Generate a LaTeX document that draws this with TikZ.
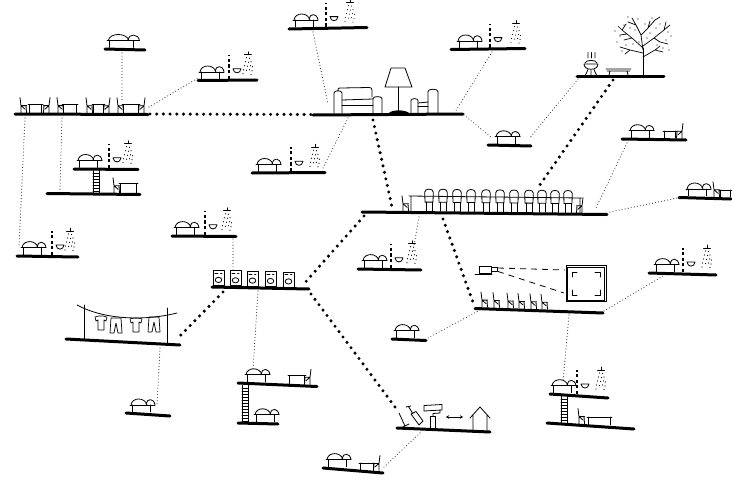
\documentclass[tikz,border=0pt]{standalone}
\usetikzlibrary{arrows.meta}
\begin{document}
\begin{tikzpicture}[x=1pt,y=-1pt,
  plat/.style={line width=3pt,line cap=round},
  icon/.style={line width=0.8pt,line cap=round,line join=round},
  twig/.style={line width=0.7pt,line cap=round,line join=round},
  mainlink/.style={line width=3.4pt,line cap=round,dash pattern=on 0pt off 6.7pt},
  sublink/.style={line width=1.15pt,line cap=round,dash pattern=on 0pt off 3.1pt,black!75},
  partition/.style={line width=1.4pt,dash pattern=on 3.2pt off 2.4pt},
  beam/.style={line width=0.8pt,dash pattern=on 6pt off 5pt},
  pics/bed/.style={code={
    \draw[icon] (2,0)--(2,-7) (20,0)--(20,-7) (0,-7)--(25,-7);
    \draw[icon] (1,-7) .. controls (2,-15) and (15,-15) .. (17,-7);
    \draw[icon] (16,-8) .. controls (17,-14) and (24,-14) .. (25,-7);
  }},
  pics/wet/.style={code={
    \draw[partition] (0,0)--(0,-24);
    \draw[icon] (4,-10)--(12,-10) (4,-10) .. controls (4.5,-4.5) and (11.5,-4.5) .. (12,-10);
    \begin{scope}[shift={(#1,-24)}]
      \draw[icon] (-3.5,0)--(3.5,0) (0,0)--(0,-3);
      \foreach \dx/\dy in {-1.5/3,1.5/3.5,-2.5/7,0.5/7.5,3/7,-3.5/11,-0.5/11.5,2.5/11,4.5/12,-4.5/15,-1.5/15.5,1.5/15,4/16,-5/19,3/19.5}
        \fill (\dx,\dy) circle (0.6);
    \end{scope}
  }},
  pics/washer/.style={code={
    \draw[icon] (0,0) rectangle (11,-15);
    \draw[icon] (5.5,-5.5) ellipse [x radius=3.3, y radius=2.6];
    \draw[icon,line width=0.6pt] (1.8,-12.3)--(5,-12.3) (7.5,-12.3)--(9,-12.3);
  }},
  pics/fchair/.style={code={
    \draw[icon] (-4,-9) -- (-4.3,-19) .. controls (-4.3,-23) and (4.3,-23) .. (4.3,-19) -- (4,-9) -- cycle;
    \draw[icon] (-3,-9)--(-3,0) (3,-9)--(3,0);
  }},
  pics/chair/.style={code={
    \draw[icon] (0,-15)--(1,-7)--(6.5,-7) (1,-7)--(1,0) (6,-7)--(6.5,0) (1,-7)--(5,-3.5);
  }},
  pics/desk/.style 2 args={code={
    \draw[icon] (0,-#2)--(#1,-#2) (1.5,-#2)--(1.5,0) (#1-1.5,-#2)--(#1-1.5,0);
  }},
  pics/ladder/.style={code={
    \draw[icon] (0,0)--(0,#1) (6,0)--(6,#1);
    \foreach \k in {3,6,...,#1} \draw[icon,line width=0.55pt] (0,\k)--(6,\k);
  }},
  pics/shirt/.style={code={
    \draw[twig] (-6,1)--(-2,0)--(2,0)--(6,1)--(5,5)--(3,4)--(3,14)--(-3,14)--(-3,4)--(-5,5)--cycle;
  }},
  pics/pants/.style={code={
    \draw[twig] (-5,0)--(5,0)--(6,15)--(2,15)--(0,5)--(-2,15)--(-6,15)--cycle;
  }}
]
\useasboundingbox (0,0) rectangle (732,480);

% ---------- platforms and their furniture ----------
% bedroom shelf over the dining hall
\draw[plat] (105,49) -- (145,50);
\pic[xscale=1.3] at (107,47.5) {bed};

% dining hall
\draw[plat] (15,114) -- (148,114.5);
\pic at (20,112.6) {chair};
\pic at (28,112.6) {desk={15}{8}};
\pic[xscale=-1] at (50,112.6) {chair};
\pic at (57,112.6) {chair};
\pic at (62,112.6) {desk={16}{8}};
\pic at (86,112.7) {chair};
\pic at (92,112.7) {desk={13}{8}};
\pic[xscale=-1] at (110,112.7) {chair};
\pic at (117,112.8) {chair};
\pic at (122,112.8) {desk={18}{8}};
\pic[xscale=-1] at (145,112.8) {chair};

% sleeping cell with wash corner
\draw[plat] (198,80.5) -- (257,80);
\pic at (199,79) {bed};
\pic at (229,78.7) {wet=19};

% top sleeping cell
\draw[plat] (289,29) -- (367,27.5);
\pic at (293,27) {bed};
\pic at (326,26.6) {wet=24};

% living room
\draw[plat] (313,115) -- (463,114);
\draw[icon] (334,113)--(334,93) .. controls (334,90) and (342,90) .. (342,93) -- (342,113);
\draw[icon] (338,91) -- (338,89.5) .. controls (338,88) and (339,88) .. (341,88) -- (369,87.5) .. controls (371,87.5) and (372,88) .. (372,90) -- (372,97);
\draw[icon] (342,100) -- (373,99);
\draw[icon] (342,105) -- (373,105);
\draw[icon] (373,113)--(373,98.5) .. controls (373,96) and (382,96) .. (382,98.5) -- (382,113);
\draw[icon] (391,68)--(405,68)--(412,87)--(385,87)--cycle;
\draw[icon] (398.5,87)--(398.5,111);
\fill (389,113) .. controls (392,109.5) and (405,109.5) .. (409,113) -- cycle;
\draw[icon] (428,113)--(428,91.5) .. controls (428,88.5) and (438,88.5) .. (438,91.5) -- (438,113);
\draw[icon] (411,113)--(411,100.5) .. controls (411,98) and (418,98) .. (418,100.5) -- (418,113);
\draw[icon] (418,103)--(428,102) (418,106.5)--(428,106.5);

% upper right sleeping cell
\draw[plat] (451,49.5) -- (525,48.5);
\pic at (457,48) {bed};
\pic at (490,47.6) {wet=26};

% barbecue terrace with tree
\draw[plat] (577,76.5) -- (664,76.5);
\draw[icon] (584,64)--(598,64) (584,64) .. controls (584,71) and (598,71) .. (598,64);
\draw[icon] (585,63) .. controls (586,59.5) and (596,59.5) .. (597,63);
\draw[icon] (588,69.5)--(585.5,75) (594,69.5)--(596.5,75) (591,70.5)--(591,75);
\draw[twig] (588,58) .. controls (586.5,56) and (589.5,55) .. (588,52.5)
            (591.5,58) .. controls (590,56) and (593,55) .. (591.5,52.5)
            (595,58) .. controls (593.5,56) and (596.5,55) .. (595,52.5);
\draw[icon] (606,69)--(631,69) (607,71)--(630,71) (610,71)--(609,75) (627,71)--(628,75);
\draw[icon] (643,75)--(643,48);
\draw[twig] (643,48)--(632,38)--(622,30)--(618,26) (632,38)--(624,40) (627,34)--(620,35)
            (643,53)--(630,50)--(620,47) (630,50)--(625,54)
            (643,50)--(641,35)--(636,25)--(632,18) (636,25)--(628,22) (641,35)--(648,28)--(655,20)--(660,17)
            (643,46)--(654,38)--(664,30)--(670,25) (654,38)--(660,42)--(668,44) (664,30)--(666,22)
            (643,57)--(655,50)--(663,52) (655,50)--(660,46) (648,28)--(650,21) (622,30)--(626,24);
\foreach \tx/\ty in {624/25,630/28,620/36,626/45,635/30,645/24,652/18,660/24,668/32,666/40,657/45,650/33,617/42,639/42,663/48,671/36,628/17,647/38,633/44,622/51,669/50,656/28,638/19,615/31}
  \fill (\tx,\ty) circle (0.7);

% small sleeping cell below the terrace
\draw[plat] (488,145) -- (531,146);
\pic at (495,143.8) {bed};

% sleeping cell with desk (right)
\draw[plat] (622,139) -- (686,140);
\pic at (629,137.7) {bed};
\pic at (663,138) {desk={14}{7}};
\pic[xscale=-1] at (683,138.3) {chair};

% sleeping cell with wash corner (left middle)
\draw[plat] (252,173) -- (325,172.5);
\pic at (256,171.5) {bed};
\pic at (291,171.2) {wet=24};

% loft with ladder (left)
\draw[plat] (74,169) -- (138,169.5);
\draw[plat] (47,193.5) -- (140,194.5);
\pic at (93,170.5) {ladder=23};
\pic at (77,167.5) {bed};
\pic at (109,167.8) {wet=19};
\pic at (113,192.7) {chair};
\pic at (119,192.8) {desk={19}{9}};

% far left sleeping cell
\draw[plat] (17,256) -- (78,257);
\pic at (21,254.6) {bed};
\pic at (52,255) {wet=18};

% sleeping cell above the laundry
\draw[plat] (172,236) -- (236,236.5);
\pic at (174,234.6) {bed};
\pic at (205,234.8) {wet=22};

% laundry
\draw[plat] (212,287) -- (309,289);
\pic at (213,285.4) {washer};
\pic at (230,285.8) {washer};
\pic at (247,286.1) {washer};
\pic at (265,286.5) {washer};
\pic at (283,286.9) {washer};

% long dining table
\draw[plat] (362,212) -- (607,214.5);
\draw[icon] (409,196)--(582,198) (411,196)--(411,211) (580,198)--(580,212.8);
\pic at (402,210.8) {chair};
\foreach \cx/\cy in {429/211.1,443/211.2,457/211.4,471/211.5,486/211.7,500/211.8,514/212,529/212.1,542/212.2,555/212.4,568/212.5}
  \pic at (\cx,\cy) {fchair};
\pic[xscale=-1] at (583,212.7) {chair};

% sleeping cell with wash corner (centre)
\draw[plat] (358,269) -- (421,270);
\pic at (362,267.6) {bed};
\pic at (391,267.8) {wet=21};

% far right sleeping cell with desk
\draw[plat] (679,197.5) -- (731,199);
\pic at (686,196) {bed};
\pic at (713,196.8) {chair};
\pic at (719,197) {desk={13}{7}};

% projection room
\draw[plat] (475,308.5) -- (603,313);
\draw[icon] (479,266) rectangle (491,273);
\draw[icon] (491,267.5) rectangle (497,271.5);
\draw[icon] (475,274.5)--(492,274.5);
\draw[beam] (498,268)--(565,270);
\draw[beam] (498,271.5)--(564,293);
\draw[icon,line width=0.9pt] (566,265.5) rectangle (606,301.5);
\draw[icon,line width=0.45pt] (567.6,267.1) rectangle (604.4,299.9);
\draw[icon] (572,277)--(572,272)--(577,272) (595,272)--(600,272)--(600,277)
            (572,290)--(572,295)--(577,295) (595,295)--(600,295)--(600,290);
\foreach \cx/\cy in {481/307.1,493/307.5,507/308,518/308.4,530/308.8,541/309.2}
  \pic at (\cx,\cy) {chair};

% sleeping cell with wash corner (right)
\draw[plat] (649,273) -- (716,275);
\pic at (654,271.6) {bed};
\pic at (683,272) {wet=24};

% small sleeping cell
\draw[plat] (392,339) -- (426,340.5);
\pic at (394,337.6) {bed};

% loft with ladder (right)
\draw[plat] (550,394) -- (608,398);
\draw[plat] (547,423) -- (634,429);
\pic at (561,396) {ladder=27};
\pic at (551,392.7) {bed};
\pic at (577,393.9) {wet=24};
\pic at (578,423.6) {chair};
\pic at (587,425) {desk={25}{8}};

% drying line
\draw[plat] (66,339) -- (180,345);
\draw[icon] (84,305)--(84,339.5) (167,308)--(167,343.5);
\draw[icon] (77,305) .. controls (105,320) and (145,321) .. (177,313);
\pic at (101,316) {shirt};
\pic at (116,318) {pants};
\pic at (136,318) {shirt};
\pic at (154,317) {pants};

% bottom left sleeping cell
\draw[plat] (126,413) -- (170,416);
\pic at (130,412) {bed};

% loft with ladder (centre bottom)
\draw[plat] (238,383) -- (317,386.5);
\draw[plat] (238,423) -- (278,424);
\pic at (242,385) {ladder=37};
\pic at (245,381.8) {bed};
\pic at (288,383.8) {desk={18}{8}};
\pic[xscale=-1] at (311,384.2) {chair};
\pic at (254,421.8) {bed};

% workshop
\draw[plat] (397,428) -- (490,432);
\draw[icon] (399,413)--(405,426) (402,427.5)--(409,424);
\draw[icon] (406,407)--(411,406) (408.5,406.5)--(413,414);
\draw[icon] (411,414)--(416,411.5)--(423,421)--(419,425)--cycle;
\draw[icon] (424,405.5)--(442,404.5)--(442,410)--(424,411)--cycle;
\draw[icon] (440,410)--(440,413)--(433,413.5)--(433,416);
\draw[icon] (430.5,416) rectangle (435.5,428.5);
\draw[icon,{Stealth[length=3pt,width=3.5pt]}-{Stealth[length=3pt,width=3.5pt]}] (446,417)--(463,417);
\draw[icon] (470,418)--(480,407)--(490,418) (473,415)--(473,430.5) (487,415)--(487,431);

% bottom sleeping cell with desk
\draw[plat] (323,468) -- (383,473);
\pic at (326,466.6) {bed};
\pic at (359,470) {desk={16}{7}};
\pic[xscale=-1] at (380,470.4) {chair};

% ---------- connector end points ----------
\coordinate (dining-e) at (150,114);
\coordinate (living-w) at (311,114.5);
\coordinate (living-s) at (373,120);
\coordinate (table-n) at (392,207);
\coordinate (bbq-s) at (613,80);
\coordinate (table-ne) at (537,189);
\coordinate (table-w) at (364,216);
\coordinate (laundry-e) at (302,286);
\coordinate (table-s) at (443,219);
\coordinate (cinema-w) at (474,305);
\coordinate (laundry-se) at (311,294);
\coordinate (workshop-nw) at (398,411);
\coordinate (laundry-sw) at (223,292);
\coordinate (drying-e) at (178,338);

\coordinate (bedA-s) at (122,53);
\coordinate (dining-n) at (122,100);
\coordinate (dining-ne) at (149,107);
\coordinate (cellA-w) at (198,78);
\coordinate (dining-sw) at (25,118);
\coordinate (farleft-n) at (19,247);
\coordinate (dining-s) at (62,118);
\coordinate (loftL-n) at (60,190);
\coordinate (top-s) at (313,32);
\coordinate (living-nw) at (328,104);
\coordinate (living-sw) at (348,118);
\coordinate (cellB-e) at (322,170);
\coordinate (upper-s) at (492,52);
\coordinate (living-ne) at (455,112);
\coordinate (living-e) at (464,115);
\coordinate (small-w) at (492,138);
\coordinate (bbq-w) at (578,79);
\coordinate (small-e) at (529,139);
\coordinate (deskcell-s) at (627,143);
\coordinate (table-e) at (595,210);
\coordinate (table-se) at (610,212);
\coordinate (farright-w) at (680,197.5);
\coordinate (table-c) at (419,217);
\coordinate (cellC-n) at (413,251);
\coordinate (cellD-s) at (233,239);
\coordinate (laundry-n) at (233,271);
\coordinate (laundry-s) at (258,291);
\coordinate (loftC-n) at (253,370);
\coordinate (drying-s) at (160,348);
\coordinate (cellE-n) at (157,405);
\coordinate (cinema-e) at (604,311);
\coordinate (cellF-w) at (663,276);
\coordinate (cinema-s) at (569,315);
\coordinate (loftR-n) at (563,382);
\coordinate (cinema-sw) at (480,310);
\coordinate (cellG-e) at (428,338);
\coordinate (workshop-s) at (420,433);
\coordinate (bottom-e) at (383,468);

% ---------- main routes ----------
\draw[mainlink] (dining-e) -- (living-w);
\draw[mainlink] (living-s) -- (table-n);
\draw[mainlink] (bbq-s) -- (table-ne);
\draw[mainlink] (table-w) -- (laundry-e);
\draw[mainlink] (table-s) -- (cinema-w);
\draw[mainlink] (laundry-se) -- (workshop-nw);
\draw[mainlink] (laundry-sw) -- (drying-e);

% ---------- secondary routes ----------
\draw[sublink] (bedA-s) -- (dining-n);
\draw[sublink] (dining-ne) -- (cellA-w);
\draw[sublink] (dining-sw) -- (farleft-n);
\draw[sublink] (dining-s) -- (loftL-n);
\draw[sublink] (top-s) -- (living-nw);
\draw[sublink] (living-sw) -- (cellB-e);
\draw[sublink] (upper-s) -- (living-ne);
\draw[sublink] (living-e) -- (small-w);
\draw[sublink] (bbq-w) -- (small-e);
\draw[sublink] (deskcell-s) -- (table-e);
\draw[sublink] (table-se) -- (farright-w);
\draw[sublink] (table-c) -- (cellC-n);
\draw[sublink] (cellD-s) -- (laundry-n);
\draw[sublink] (laundry-s) -- (loftC-n);
\draw[sublink] (drying-s) -- (cellE-n);
\draw[sublink] (cinema-e) -- (cellF-w);
\draw[sublink] (cinema-s) -- (loftR-n);
\draw[sublink] (cinema-sw) -- (cellG-e);
\draw[sublink] (workshop-s) -- (bottom-e);
\end{tikzpicture}
\end{document}
